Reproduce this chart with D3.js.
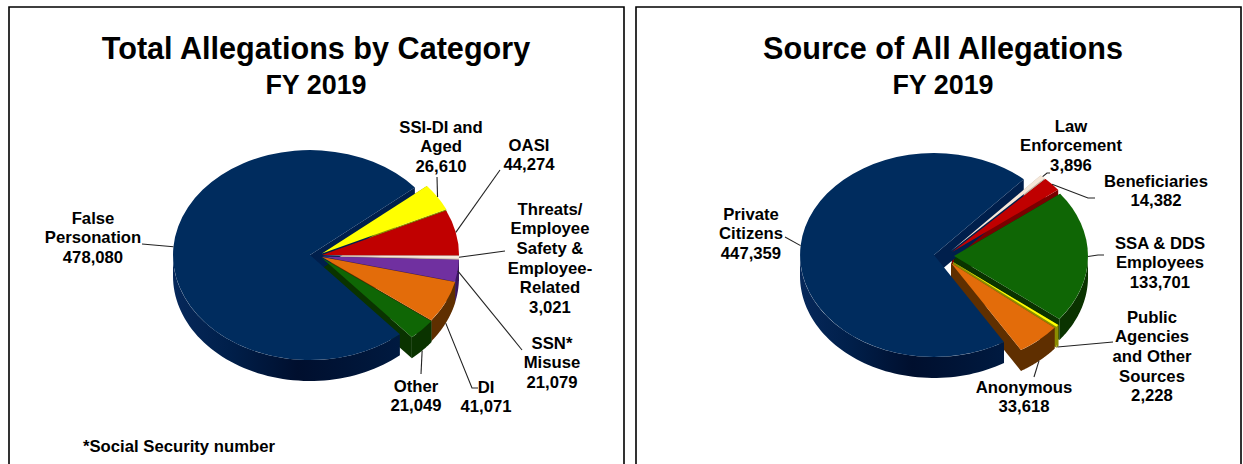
<!DOCTYPE html>
<html><head><meta charset="utf-8">
<script src="https://cdn.jsdelivr.net/npm/d3@7"></script>
<style>html,body{margin:0;padding:0;background:#fff}svg{display:block}text{font-family:"Liberation Sans",Arial,sans-serif;font-weight:700;fill:#000}</style>
</head><body><svg id="c" width="1243" height="464"></svg>
<script>
// ---------- data ----------
const categoryLabels = ["False|Personation","SSI-DI and|Aged","OASI","Threats/|Employee|Safety &|Employee-|Related","SSN*|Misuse","DI","Other"];
const categoryValues = [478080,26610,44274,3021,21079,41071,21049];
const sourceLabels = ["Private|Citizens","Law|Enforcement","Beneficiaries","SSA & DDS|Employees","Public|Agencies|and Other|Sources","Anonymous"];
const sourceValues = [447359,3896,14382,133701,2228,33618];
// ---------- styles and layout (not data) ----------
const categoryTop  = ["#002c5e","#ffff00","#c00000","#f6e8da","#7030a0","#e36c0a","#0f6605"];
const categoryWall = ["#001f4c","#8c8c00","#7a0000","#bfb0a0","#3a1760","#5f2f00","#0a3300"];
const sourceTop    = ["#002c5e","#f6e8da","#c00000","#0f6605","#ffff00","#e36c0a"];
const sourceWall   = ["#001f4c","#bfb0a0","#7a0000","#0a3300","#8c8c00","#5f2f00"];
const categoryCentres = [[310,255],[322,253.5],[322,255],[322,255.5],[322,256.5],[322,257],[322,258]];
const sourceCentres   = [[934,255],[951,251],[952,252],[954,256],[953,262],[951,263]];
const categoryAnchors = [[[142,244]],[[437,177]],[[500,170]],[[505,251]],[[522,350]],[[472,388],[478,388]],[[421,374]]];
const sourceAnchors   = [[[785,237]],[[1047,173],[1050,173]],[[1088,198],[1095,198]],[[1098,255],[1104,255]],[[1113,342]],[[1034,377]]];
const categoryText = [[93,218],[441,127],[529,145],[550,209],[552,343],[486,387],[416,386]];
const sourceText   = [[751,214],[1071,126],[1156,181],[1160,243],[1152,317],[1024,387]];
const categoryLeaderDepth = [0,0,0,0,0,1,1];
const sourceLeaderDepth   = [0,0,0,0,1,1];
const DEPTH = 21, LINE = 19.7, DEG = Math.PI/180, LABEL_SIZE = 16.7;
const fmt = d3.format(",");
const svg = d3.select("#c");

// wall gradient for the large slice
const grad = svg.append("defs").append("linearGradient").attr("id","blueWall");
[[0,"#06285a"],[0.25,"#001f4a"],[0.55,"#000f2e"],[1,"#001a40"]].forEach(s=>grad.append("stop").attr("offset",s[0]).attr("stop-color",s[1]));

function frame(x,w){
  svg.append("path").attr("d",d3.line()([[x,464],[x,7],[x+w,7],[x+w,464]]))
    .attr("fill","none").attr("stroke","#000").attr("stroke-width",1.6);
}
function drawPie(o){
  const rx=o.rx, ry=o.ry;
  const arcs=d3.pie().sort(null).value(d=>d).startAngle(o.start*DEG).endAngle((o.start+360)*DEG)(o.values);
  const arc=d3.arc().innerRadius(0).outerRadius(1);
  const pt=(i,a,dy=0)=>{const c=o.centres[i];return [c[0]+rx*Math.sin(a),c[1]-ry*Math.cos(a)+dy];};
  const g=svg.append("g");
  const wall=(i)=>{
    const a=arcs[i], c=o.centres[i], line=d3.line();
    const fill=i===0?"url(#blueWall)":o.wall[i];
    [a.startAngle,a.endAngle].forEach(t=>{
      if(i===0 && t!==a.endAngle) return; // only the face that looks towards the viewer
      const p=pt(i,t);
      g.append("path").attr("d",line([c,p,[p[0],p[1]+DEPTH],[c[0],c[1]+DEPTH]])+"Z").attr("fill",o.wall[i]);
    });
    // outer rim, front half only
    const ranges=[];
    for(let k=-1;k<=1;k++){
      const s=Math.max(a.startAngle,(90+360*k)*DEG), e=Math.min(a.endAngle,(270+360*k)*DEG);
      if(e>s) ranges.push([s,e]);
    }
    ranges.forEach(([s,e])=>{
      const ts=d3.range(0,61).map(n=>s+(e-s)*n/60);
      const up=ts.map(t=>pt(i,t)), dn=ts.map(t=>pt(i,t,DEPTH)).reverse();
      g.append("path").attr("d",line(up.concat(dn))+"Z").attr("fill",fill);
    });
  };
  const top=(i)=>{
    const c=o.centres[i];
    g.append("path").attr("d",arc(arcs[i])).attr("fill",o.top[i])
      .attr("transform",`translate(${c[0]},${c[1]}) scale(${rx},${ry})`);
  };
  d3.range(1,arcs.length).forEach(wall);
  wall(0); top(0);
  d3.range(1,arcs.length).forEach(top);
  // leaders and labels
  arcs.forEach((a,i)=>{
    const mid=(a.startAngle+a.endAngle)/2;
    const s=pt(i,mid,o.leaderDepth[i]?DEPTH:0);
    svg.append("path").attr("d",d3.line()([s,...o.anchors[i]])).attr("fill","none")
      .attr("stroke","#222").attr("stroke-width",1.1);
    const lines=o.labels[i].split("|").concat(fmt(o.values[i]));
    const t=svg.append("text").attr("text-anchor","middle").attr("font-size",LABEL_SIZE);
    lines.forEach((l,n)=>t.append("tspan").attr("x",o.text[i][0]).attr("y",o.text[i][1]+5.5+n*LINE).text(l));
  });
  svg.append("text").attr("x",o.titleX).attr("y",59).attr("text-anchor","middle").attr("font-size",30.6).text(o.title);
  svg.append("text").attr("x",o.titleX).attr("y",94).attr("text-anchor","middle").attr("font-size",26.9).text("FY 2019");
}
frame(9,615);
frame(636,605);
drawPie({title:"Total Allegations by Category",titleX:316,values:categoryValues,labels:categoryLabels,top:categoryTop,wall:categoryWall,
  centres:categoryCentres,anchors:categoryAnchors,text:categoryText,leaderDepth:categoryLeaderDepth,rx:137,ry:105,start:139});
drawPie({title:"Source of All Allegations",titleX:943,values:sourceValues,labels:sourceLabels,top:sourceTop,wall:sourceWall,
  centres:sourceCentres,anchors:sourceAnchors,text:sourceText,leaderDepth:sourceLeaderDepth,rx:134,ry:102,start:148.5});
svg.append("text").attr("x",83).attr("y",452).attr("font-size",LABEL_SIZE).text("*Social Security number");
</script></body></html>
